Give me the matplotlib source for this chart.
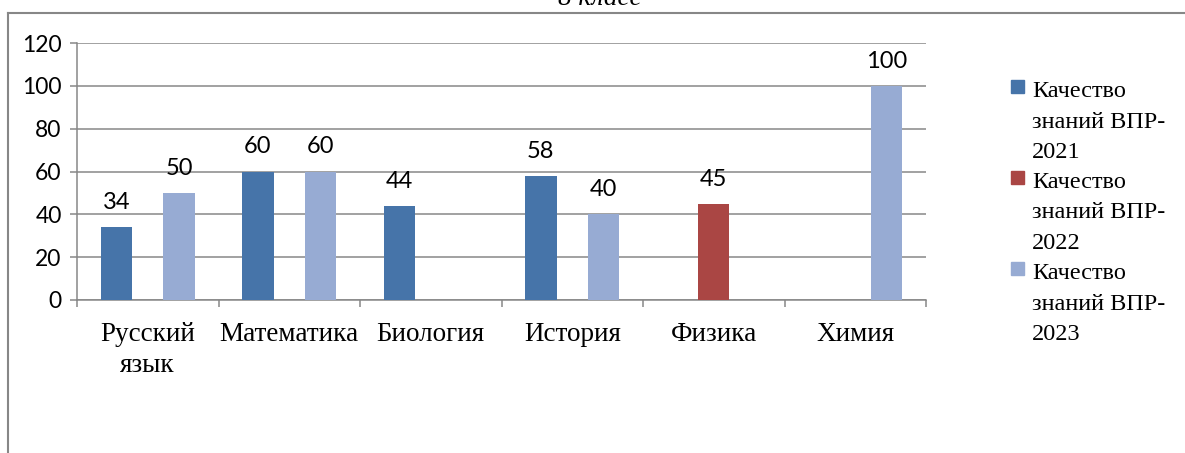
import numpy as np
import matplotlib.pyplot as plt
from matplotlib.lines import Line2D
from matplotlib.patches import Rectangle

# data
subjects = ['Русский\nязык', 'Математика', 'Биология', 'История', 'Физика', 'Химия']
series_names = ['Качество\nзнаний ВПР-\n2021',
                'Качество\nзнаний ВПР-\n2022',
                'Качество\nзнаний ВПР-\n2023']
vpr_2021 = [34, 60, 44, 58, 0, 0]
vpr_2022 = [0, 0, 0, 0, 45, 0]
vpr_2023 = [50, 60, 0, 40, 0, 100]
y_ticks = [0, 20, 40, 60, 80, 100, 120]
title = '8 класс'

colors = ['#4674A9', '#AA4644', '#97ABD3']
grid_col = '#878787'
serif = ['Liberation Serif', 'DejaVu Serif']
sans = ['Lato', 'DejaVu Sans']

W, H = 1185, 453
fig = plt.figure(figsize=(W / 100, H / 100), dpi=100)


def fx(px):
    return px / W


def fy(py):
    return 1 - py / H


# outer chart frame (left + top edges visible)
fig.add_artist(Line2D([fx(8), fx(8)], [fy(13), 0], color=grid_col, lw=1.5))
fig.add_artist(Line2D([fx(8), 1], [fy(13), fy(13)], color=grid_col, lw=1.5))
# title sits mostly above the visible area, as in the reference
fig.text(fx(600), fy(5), title, ha='center', va='baseline', fontsize=19.5,
         style='italic', family=serif)

ax = fig.add_axes([fx(77), fy(300), fx(926) - fx(77), fy(43) - fy(300)])

bw = 1 / 4.5
x = np.arange(len(subjects))
for i, vals in enumerate([vpr_2021, vpr_2022, vpr_2023]):
    vals = np.array(vals)
    m = vals > 0
    xs = x[m] + (i - 1) * bw
    ax.bar(xs, vals[m], width=bw, color=colors[i], zorder=3)
    for xx, v in zip(xs, vals[m]):
        ax.annotate(str(v), (xx, v), xytext=(0, 13), textcoords='offset points',
                    ha='center', va='baseline', fontsize=17, family=sans)

ax.set_xlim(-0.5, len(subjects) - 0.5)
ax.set_ylim(0, 120)
ax.set_yticks(y_ticks)
ax.set_yticklabels([str(t) for t in y_ticks], fontsize=16.5, family=sans)
ax.grid(axis='y', color=grid_col, lw=1.1, zorder=0)
ax.set_axisbelow(True)

ax.set_xticks(x)
ax.set_xticklabels(subjects, fontsize=19.5, family=serif, linespacing=1.3)
ax.set_xticks(np.arange(len(subjects) + 1) - 0.5, minor=True)
ax.tick_params(axis='x', which='major', length=0, pad=16)
ax.tick_params(axis='x', which='minor', length=5, color=grid_col, width=1.1)
ax.tick_params(axis='y', length=5, color=grid_col, width=1.1, pad=6)

for s in ['top', 'right']:
    ax.spines[s].set_visible(False)
for s in ['left', 'bottom']:
    ax.spines[s].set_color(grid_col)
    ax.spines[s].set_linewidth(1.1)

# legend, square next to first line of each entry
for i, name in enumerate(series_names):
    top = 80 + i * 91
    fig.add_artist(Rectangle((fx(1011), fy(top + 13)), fx(13), fy(0) - fy(13),
                             color=colors[i], transform=fig.transFigure))
    for j, line in enumerate(name.split('\n')):
        fig.text(fx(1032), fy(97 + i * 91 + j * 30.5), line, ha='left',
                 va='baseline', fontsize=17.5, family=serif)

fig.savefig('out.png', dpi=100)
